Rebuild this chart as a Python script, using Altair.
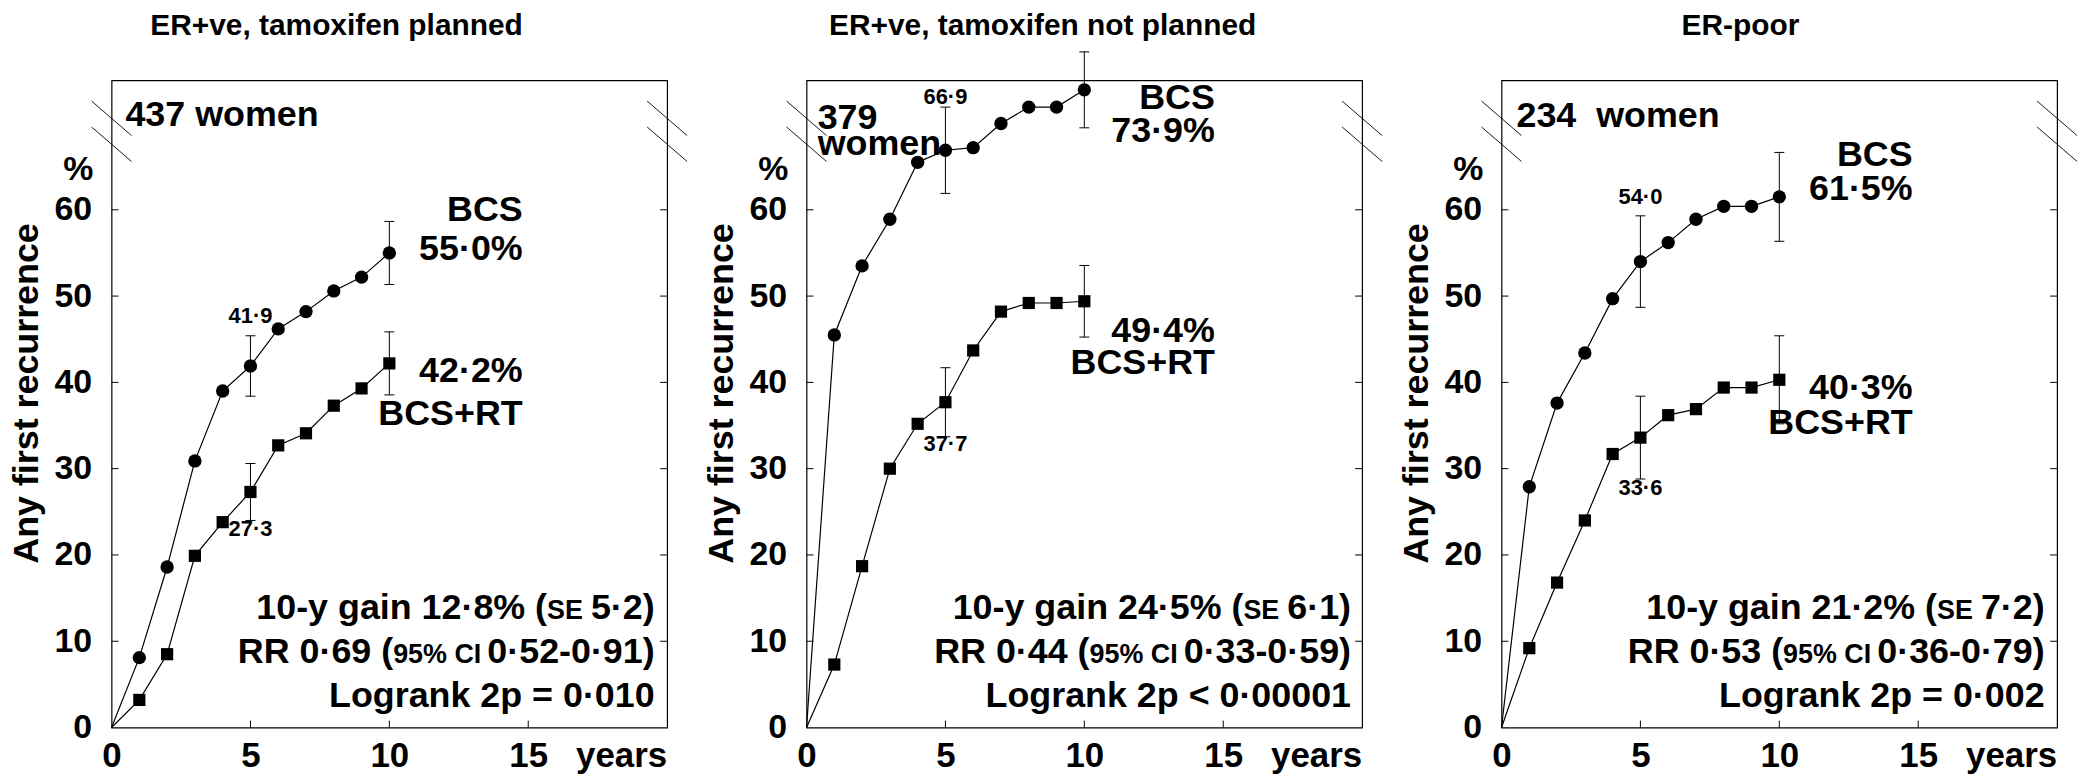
import altair as alt
import pandas as pd

# ---------------- data ----------------
panel_titles = ["ER+ve, tamoxifen planned", "ER+ve, tamoxifen not planned", "ER-poor"]
title_t = [8.1, 8.5, 8.6]
years = [0, 1, 2, 3, 4, 5, 6, 7, 8, 9, 10]
bcs_values = [
    [0, 8.1, 18.6, 30.9, 39.0, 41.9, 46.2, 48.2, 50.6, 52.2, 55.0],
    [0, 45.5, 53.5, 58.9, 65.5, 66.9, 67.2, 70.0, 71.9, 71.9, 73.9],
    [0, 27.9, 37.6, 43.4, 49.7, 54.0, 56.2, 58.9, 60.4, 60.4, 61.5],
]
bcs_rt_values = [
    [0, 3.2, 8.5, 19.9, 23.8, 27.3, 32.7, 34.1, 37.3, 39.3, 42.2],
    [0, 7.3, 18.7, 30.0, 35.2, 37.7, 43.7, 48.2, 49.2, 49.2, 49.4],
    [0, 9.2, 16.8, 24.0, 31.7, 33.6, 36.2, 36.9, 39.4, 39.4, 40.3],
]
err_years = [5, 10]
bcs_err = [[3.5, 3.65], [5.0, 4.4], [5.3, 5.15]]
bcs_rt_err = [[3.3, 3.65], [4.0, 4.15], [4.8, 5.1]]

women_lines = [["437 women"], ["379", "women"], ["234\u00a0\u00a0women"]]
women_v = [[71.0], [70.6, 67.6], [70.9]]
women_t = [0.5, 0.4, 0.54]

bcs_label = [["BCS", "55·0%"], ["BCS", "73·9%"], ["BCS", "61·5%"]]
bcs_label_v = [[60.0, 55.5], [73.0, 69.1], [66.4, 62.4]]
rt_label = [["42·2%", "BCS+RT"], ["49·4%", "BCS+RT"], ["40·3%", "BCS+RT"]]
rt_label_v = [[41.3, 36.3], [45.9, 42.2], [39.3, 35.3]]
label_t = [14.8, 14.7, 14.8]

five_bcs_text = ["41·9", "66·9", "54·0"]
five_bcs_v = [47.7, 73.1, 61.5]
five_rt_text = ["27·3", "37·7", "33·6"]
five_rt_v = [23.0, 32.8, 27.8]

gain = ["12·8%", "24·5%", "21·2%"]
gain_se = ["5·2", "6·1", "7·2"]
rr = ["0·69", "0·44", "0·53"]
rr_ci = ["0·52-0·91", "0·33-0·59", "0·36-0·79"]
logrank = ["= 0·010", "< 0·00001", "= 0·002"]
stats_t = [19.55, 19.6, 19.55]
stats_v = [12.6, 7.5, 2.4]

y_tick_labels = [0, 10, 20, 30, 40, 50, 60]
y_inner_ticks = [10, 20, 30, 40, 50, 60]
x_tick_labels = [0, 5, 10, 15]
x_inner_ticks = [5, 10, 15]
break_v = [[72.6, 68.6], [69.6, 65.6]]
break_half = 0.72
pct_t, pct_v = -1.2, 64.6

# ---------------- style ----------------
W, H = 558, 650
X_MAX, Y_MAX = 20, 75
FONT = "Liberation Sans, Arial, Helvetica, sans-serif"
BIG, SMALL, LAB, TINY, ANN = 36, 27, 34, 22, 36

# Helvetica/Arial/Liberation Sans Bold advance widths (per 1000 em)
HB = {' ': 278, '(': 333, ')': 333, '-': 333, '%': 889, '·': 278, '=': 584, '<': 584,
      'a': 556, 'g': 611, 'i': 278, 'k': 556, 'n': 611, 'o': 611, 'p': 611, 'r': 389,
      'y': 556, 'C': 722, 'E': 667, 'I': 278, 'L': 611, 'R': 722, 'S': 667}
for d in "0123456789":
    HB[d] = 556


def text_w(s, size):
    return sum(HB.get(c, 556) for c in s) / 1000.0 * size


def make_panel(i):
    pxpy = W / X_MAX
    X = alt.X('t:Q', scale=alt.Scale(domain=[0, X_MAX], nice=False),
              axis=alt.Axis(values=x_tick_labels, title=None, ticks=False, domain=False, grid=False,
                            labelFont=FONT, labelFontSize=35, labelFontWeight='bold',
                            labelColor='black', labelPadding=11, labelFlush=False,
                            labelOverlap=False))
    Y = alt.Y('v:Q', scale=alt.Scale(domain=[0, Y_MAX], nice=False),
              axis=alt.Axis(values=y_tick_labels, title='Any first recurrence', ticks=False,
                            domain=False, grid=False, labelFont=FONT, labelFontSize=LAB,
                            labelFontWeight='bold', labelColor='black', labelPadding=20,
                            labelOverlap=False,
                            titleFont=FONT, titleFontSize=36, titleFontWeight='bold',
                            titleColor='black', titleAngle=270, titleAlign='center',
                            titleBaseline='alphabetic', titleX=-74, titleY=314))

    lines_df = pd.DataFrame({'t': years + years,
                             'v': bcs_values[i] + bcs_rt_values[i],
                             'series': ['BCS'] * len(years) + ['BCS+RT'] * len(years)})
    lines = alt.Chart(lines_df).mark_line(color='black', strokeWidth=1.2).encode(
        x=X, y=Y, detail='series:N')
    circ = alt.Chart(lines_df[(lines_df.series == 'BCS') & (lines_df.t > 0)]).mark_point(
        shape='circle', filled=True, size=180, color='black', opacity=1).encode(x=X, y=Y)
    sq = alt.Chart(lines_df[(lines_df.series == 'BCS+RT') & (lines_df.t > 0)]).mark_point(
        shape='square', filled=True, size=150, color='black', opacity=1).encode(x=X, y=Y)

    err_rows = []
    cap_rows = []
    for vals, errs in ((bcs_values[i], bcs_err[i]), (bcs_rt_values[i], bcs_rt_err[i])):
        for yr, e in zip(err_years, errs):
            c = vals[years.index(yr)]
            err_rows.append({'t': yr, 'v': c - e, 'v2': c + e})
            cap_rows.append({'t': yr, 'v': c - e})
            cap_rows.append({'t': yr, 'v': c + e})
    err = alt.Chart(pd.DataFrame(err_rows)).mark_rule(color='black', strokeWidth=1).encode(
        x=X, y=Y, y2='v2:Q')
    caps = alt.Chart(pd.DataFrame(cap_rows)).mark_tick(
        orient='horizontal', color='black', thickness=1, size=10, opacity=1).encode(x=X, y=Y)

    brk_rows = []
    for tc in (0, X_MAX):
        for v1, v2 in break_v:
            brk_rows.append({'t': tc - break_half, 't2': tc + break_half, 'v': v1, 'v2': v2})
    brk = alt.Chart(pd.DataFrame(brk_rows)).mark_rule(color='black', strokeWidth=0.9).encode(
        x=X, x2='t2:Q', y=Y, y2='v2:Q')

    yt = pd.DataFrame({'v': y_inner_ticks})
    tl = alt.Chart(yt).mark_rule(color='black', strokeWidth=1).encode(
        y=Y, x=alt.value(0), x2=alt.value(7))
    tr = alt.Chart(yt).mark_rule(color='black', strokeWidth=1).encode(
        y=Y, x=alt.value(W - 7), x2=alt.value(W))
    xt = pd.DataFrame({'t': x_inner_ticks})
    tb = alt.Chart(xt).mark_rule(color='black', strokeWidth=1).encode(
        x=X, y=alt.value(H - 7), y2=alt.value(H))

    def txt(rows, align, baseline):
        return alt.Chart(pd.DataFrame(rows)).mark_text(
            font=FONT, fontWeight='bold', color='black', align=align, baseline=baseline
        ).encode(x=X, y=Y, text='text:N', size=alt.Size('size:Q', scale=None))

    left_rows = [{'t': women_t[i], 'v': v, 'text': s, 'size': ANN}
                 for s, v in zip(women_lines[i], women_v[i])]
    right_rows = []
    for s, v in zip(bcs_label[i] + rt_label[i], bcs_label_v[i] + rt_label_v[i]):
        right_rows.append({'t': label_t[i], 'v': v, 'text': s, 'size': ANN})
    center_rows = [
        {'t': 5, 'v': five_bcs_v[i], 'text': five_bcs_text[i], 'size': TINY},
        {'t': 5, 'v': five_rt_v[i], 'text': five_rt_text[i], 'size': TINY},
        {'t': pct_t, 'v': pct_v, 'text': '%', 'size': LAB},
    ]

    stat_lines = [
        [("10-y gain " + gain[i] + " (", BIG), ("SE", SMALL), (" " + gain_se[i] + ")", BIG)],
        [("RR " + rr[i] + " (", BIG), ("95% CI", SMALL), (" " + rr_ci[i] + ")", BIG)],
        [("Logrank 2p " + logrank[i], BIG)],
    ]
    stat_rows = []
    for segs, v in zip(stat_lines, stats_v):
        acc = 0.0
        for s, size in reversed(segs):
            stat_rows.append({'t': stats_t[i] - acc / pxpy, 'v': v, 'text': s.strip(), 'size': size})
            acc += text_w(s, size)

    years_lbl = alt.Chart(pd.DataFrame({'t': [X_MAX], 'text': ['years']})).mark_text(
        font=FONT, fontWeight='bold', color='black', align='right', baseline='alphabetic',
        fontSize=35).encode(x=X, y=alt.value(H + 40), text='text:N')

    title_lbl = alt.Chart(pd.DataFrame({'t': [title_t[i]], 'text': [panel_titles[i]]})).mark_text(
        font=FONT, fontWeight='bold', color='black', align='center', baseline='alphabetic',
        fontSize=30).encode(x=X, y=alt.value(-46), text='text:N')

    layers = [lines, err, caps, circ, sq, brk, tl, tr, tb,
              txt(left_rows, 'left', 'middle'),
              txt(right_rows, 'right', 'middle'),
              txt(center_rows, 'center', 'middle'),
              txt(stat_rows, 'right', 'alphabetic'),
              years_lbl, title_lbl]
    return alt.layer(*layers).properties(width=W, height=H)


chart = alt.hconcat(*[make_panel(i) for i in range(3)], spacing=140, bounds='flush').properties(
    padding={'left': 0, 'top': 0, 'right': 0, 'bottom': 0}, background='white'
).configure_view(stroke='black', strokeWidth=1.2)

chart.save("out.html", embed_options={"renderer": "svg", "actions": False})
